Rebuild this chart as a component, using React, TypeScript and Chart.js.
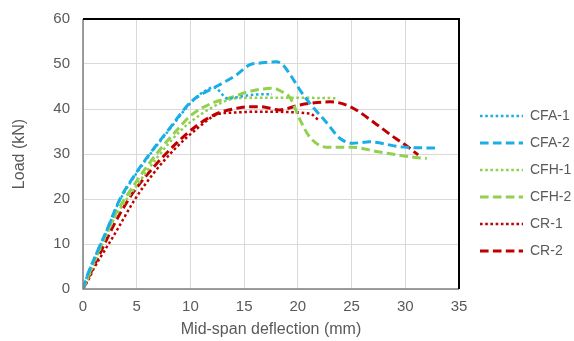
import React, { useEffect, useRef } from "react";
import { Chart, registerables } from "chart.js";

Chart.register(...registerables);

const seriesNames = ["CFA-1", "CFA-2", "CFH-1", "CFH-2", "CR-1", "CR-2"];

const cfa1X = [0, 0.4, 1, 2.2, 3.4, 5, 6.2, 8, 10, 11.2, 12.2, 13.5, 14.5, 16, 17.6];
const cfa1Y = [0, 3, 6.5, 13, 19.6, 25.8, 29.8, 35.3, 41.3, 43.8, 44.8, 42.3, 42.7, 43.2, 43.3];

const cfa2X = [0, 0.4, 1, 2.2, 3.4, 5, 6.2, 8, 10, 11.2, 12.4, 14.3, 15.5, 16.5, 18, 18.6, 19.3, 20.2, 21.1, 22.7, 23.9, 25.1, 26.7, 29.5, 33.1];
const cfa2Y = [0, 3, 6.5, 13, 19.8, 26, 30, 35.5, 41.5, 43.5, 45, 47.6, 49.8, 50.2, 50.5, 49.8, 47.6, 44.2, 41.3, 36.9, 33.5, 32.4, 32.7, 31.6, 31.3];

const cfh1X = [0, 0.5, 1, 2, 3, 5, 7, 9, 10.9, 12.8, 14.3, 17, 20, 23.6];
const cfh1Y = [0, 2.5, 5.5, 11, 16, 23, 29.5, 35, 38.7, 41.3, 42.4, 42.5, 42.5, 42.4];

const cfh2X = [0, 0.5, 1, 2, 3, 5, 7, 9, 10, 12, 13.7, 15.5, 17.7, 18.4, 19.3, 20.2, 21.1, 22.7, 25, 27.5, 30.4, 32];
const cfh2Y = [0, 3, 6, 11.5, 16.5, 24, 30.5, 36, 38.5, 41.3, 42.5, 43.9, 44.6, 44, 42.4, 37.6, 33.8, 31.5, 31.5, 30.5, 29.4, 29];

const cr1X = [0, 0.5, 1, 2, 3, 4.8, 6.5, 8.5, 10.7, 12.5, 14, 16.5, 21.1, 21.9];
const cr1Y = [0, 2, 4.5, 8.5, 12.4, 19.8, 25.5, 31, 35.8, 38.8, 39.2, 39.4, 39, 37.6];

const cr2X = [0, 0.5, 1, 2, 3, 4.4, 6, 8.7, 10.7, 12.5, 14, 15.5, 16.5, 18.3, 20.2, 23, 24.9, 27.2, 28.9, 30.3, 31.2];
const cr2Y = [0, 2.5, 5, 10, 14.8, 20.5, 25.5, 32.4, 36.5, 39, 40, 40.5, 40.5, 39.8, 40.9, 41.6, 40.5, 36.8, 33.8, 31.5, 29.8];

const xTicks = [0, 5, 10, 15, 20, 25, 30, 35];
const yTicks = [0, 10, 20, 30, 40, 50, 60];

const BLUE = "#1AAEE6";
const GREEN = "#92D050";
const RED = "#C00000";
const DOT = [2.606, 2.606];
const DASH = [8.6, 4.3];

const toPts = (xs: number[], ys: number[]) => xs.map((x, i) => ({ x, y: ys[i] }));

const frame = {
  id: "frame",
  afterDatasetsDraw(chart: any) {
    const { ctx, chartArea: a } = chart;
    ctx.save();
    ctx.strokeStyle = "#808080";
    ctx.lineWidth = 1.5;
    ctx.beginPath();
    ctx.moveTo(a.left, a.top);
    ctx.lineTo(a.left, a.bottom);
    ctx.lineTo(a.right, a.bottom);
    ctx.stroke();
    ctx.strokeStyle = "#000000";
    ctx.lineWidth = 2;
    ctx.beginPath();
    ctx.moveTo(a.left, a.top);
    ctx.lineTo(a.right, a.top);
    ctx.lineTo(a.right, a.bottom);
    ctx.stroke();
    ctx.restore();
  },
};

const noPad = (s: any) => {
  s.paddingTop = 0;
  s.paddingBottom = 0;
};

export default function App() {
  const ref = useRef<HTMLCanvasElement | null>(null);
  useEffect(() => {
    document.body.style.margin = "0";
    if (!ref.current) return;
    const mk = (label: string, xs: number[], ys: number[], color: string, dash: number[], w: number) => ({
      label,
      data: toPts(xs, ys),
      borderColor: color,
      backgroundColor: "rgba(0,0,0,0)",
      borderDash: dash,
      borderWidth: w,
      pointRadius: 0,
      showLine: true,
      fill: false,
      cubicInterpolationMode: "monotone" as const,
    });
    const chart = new Chart(ref.current, {
      type: "scatter",
      data: {
        datasets: [
          mk(seriesNames[0], cfa1X, cfa1Y, BLUE, DOT, 2.5),
          mk(seriesNames[1], cfa2X, cfa2Y, BLUE, DASH, 3),
          mk(seriesNames[2], cfh1X, cfh1Y, GREEN, DOT, 2.5),
          mk(seriesNames[3], cfh2X, cfh2Y, GREEN, DASH, 3),
          mk(seriesNames[4], cr1X, cr1Y, RED, DOT, 2.5),
          mk(seriesNames[5], cr2X, cr2Y, RED, DASH, 3),
        ],
      },
      options: {
        animation: false,
        responsive: false,
        maintainAspectRatio: false,
        layout: { padding: { top: 19, right: 0, bottom: 0, left: 0 } },
        scales: {
          x: {
            type: "linear",
            min: 0,
            max: 35,
            afterBuildTicks: (s: any) => { s.ticks = xTicks.map((v) => ({ value: v })); },
            afterFit: (s: any) => { s.height = 52; },
            ticks: { font: { family: "Liberation Sans, Arial", size: 15 }, color: "#595959", padding: 9 },
            grid: { color: "#d9d9d9", drawTicks: false, lineWidth: 1 },
            border: { display: false },
            title: {
              display: true,
              text: "Mid-span deflection (mm)",
              font: { family: "Liberation Sans, Arial", size: 16 },
              color: "#595959",
              padding: { top: 0, bottom: 1.5 },
            },
          },
          y: {
            type: "linear",
            min: 0,
            max: 60,
            afterBuildTicks: (s: any) => { s.ticks = yTicks.map((v) => ({ value: v })); },
            afterFit: (s: any) => { s.width = 83; noPad(s); },
            ticks: { font: { family: "Liberation Sans, Arial", size: 15 }, color: "#595959", padding: 13 },
            grid: { color: "#d9d9d9", drawTicks: false, lineWidth: 1 },
            border: { display: false },
            title: {
              display: true,
              text: "Load (kN)",
              font: { family: "Liberation Sans, Arial", size: 16 },
              color: "#595959",
              padding: { top: 10.4, bottom: 0 },
            },
          },
          y2: {
            type: "linear",
            position: "right",
            display: true,
            afterFit: (s: any) => { s.width = 8; noPad(s); },
            ticks: { display: false },
            grid: { display: false, drawTicks: false },
            border: { display: false },
          },
        },
        plugins: {
          tooltip: { enabled: false },
          legend: {
            position: "right",
            align: "center",
            fullSize: true,
            maxWidth: 107,
            title: { display: true, text: "", font: { size: 1 }, padding: { top: 0, bottom: 6 } },
            labels: {
              boxWidth: 43,
              boxHeight: 0,
              padding: 13,
              color: "#595959",
              font: { family: "Liberation Sans, Arial", size: 14 },
            },
          },
        },
      },
      plugins: [frame],
    });
    return () => chart.destroy();
  }, []);
  return (
    <div style={{ width: 574, height: 341 }}>
      <canvas ref={ref} width={574} height={341} style={{ display: "block" }} />
    </div>
  );
}
